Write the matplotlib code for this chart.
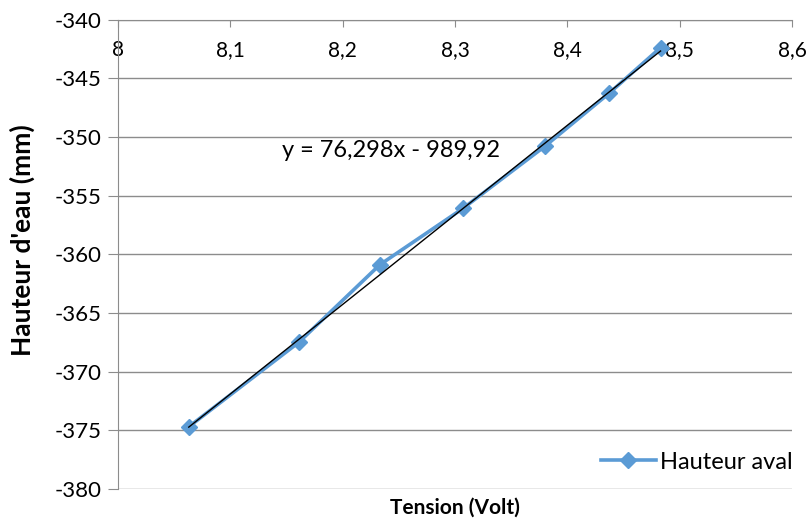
import numpy as np
import matplotlib.pyplot as plt

# valeurs
tension = [8.063, 8.161, 8.233, 8.307, 8.380, 8.437, 8.483]
hauteur = [-374.7, -367.5, -360.9, -356.1, -350.8, -346.3, -342.4]
pente, ordonnee = 76.298, -989.92
xticks = [8.0, 8.1, 8.2, 8.3, 8.4, 8.5, 8.6]
yticks = [-380, -375, -370, -365, -360, -355, -350, -345, -340]

plt.rcParams['font.family'] = ['Lato', 'DejaVu Sans']
plt.rcParams['font.size'] = 15

fig = plt.figure(figsize=(8.12, 5.22), dpi=100)
ax = fig.add_axes([118/812, 1-489/522, 674/812, 469.5/522])

grey = '#8c8c8c'
for y in yticks:
    ax.axhline(y, color=grey, lw=1, zorder=0)

ax.plot(tension, hauteur, '-D', color='#5b9bd5', lw=2.6, ms=8, label='Hauteur aval', zorder=2)
xt = np.array([min(tension), max(tension)])
ax.plot(xt, pente*xt + ordonnee, color='black', lw=1, zorder=3)
ax.text(8.146, -351.2, 'y = 76,298x - 989,92', fontsize=17, va='center')

ax.set_xlim(8.0, 8.6)
ax.set_ylim(-380, -340)
ax.set_xticks(xticks)
ax.set_xticklabels([('%g' % v).replace('.', ',') for v in xticks], fontsize=16)
ax.set_yticks(yticks)
ax.set_yticklabels([str(v) for v in yticks], fontsize=16)

ax.spines['bottom'].set_position(('data', -340))
ax.spines['bottom'].set_color(grey)
ax.spines['left'].set_color(grey)
ax.spines['top'].set_visible(False)
ax.spines['right'].set_visible(False)
ax.tick_params(axis='x', direction='out', length=5, color=grey, pad=10)
ax.tick_params(axis='y', direction='out', length=7, color=grey, pad=5)

ax.set_xlabel('Tension (Volt)', fontsize=15, fontweight='bold')
ax.xaxis.set_label_coords(0.5, -0.04)
ax.xaxis.label.set_va('center')
ax.set_ylabel("Hauteur d'eau (mm)", fontsize=19, fontweight='bold')
ax.yaxis.set_label_coords(-0.142, 0.53)
ax.yaxis.label.set_va('center')

ax.legend(loc='center left', bbox_to_anchor=(0.717, 0.0575), frameon=False,
          borderpad=0, borderaxespad=0, handlelength=2.3, handletextpad=0.2, fontsize=17)

fig.savefig('out.png', dpi=100)
